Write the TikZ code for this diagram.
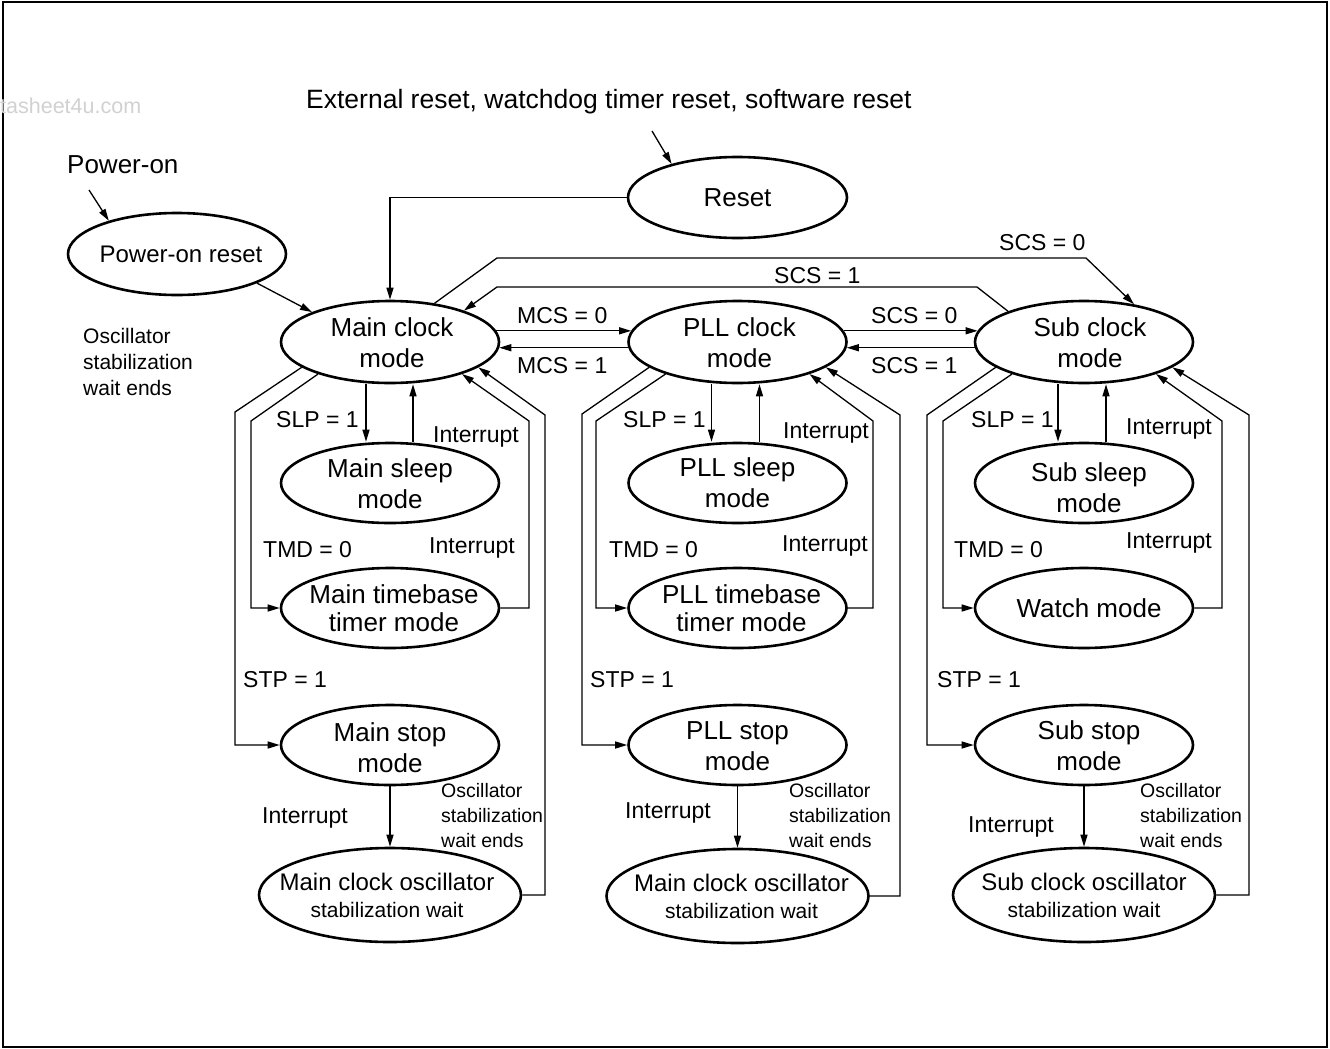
\documentclass[tikz,border=0pt]{standalone}
\usepackage{fontspec}
\setmainfont{Liberation Sans}
\usetikzlibrary{shapes.geometric,arrows.meta}
\begin{document}
\begin{tikzpicture}[x=1pt,y=-1pt,
  st/.style={ellipse,draw,line width=2.6pt,inner sep=0pt,minimum width=218pt,minimum height=80pt},
  stt/.style={inner sep=0pt,align=center,font=\fontsize{26}{31}\selectfont},
  lbl/.style={inner sep=0pt,anchor=base west,font=\fontsize{23}{27}\selectfont},
  big/.style={inner sep=0pt,anchor=base west,font=\fontsize{26}{31}\selectfont},
  sml/.style={inner sep=0pt,anchor=north west,align=left,font=\fontsize{19.5}{25}\selectfont},
  arr/.style={line width=1.3pt,-{Triangle[length=12pt,width=7pt]}},
  ln/.style={line width=1.3pt}]
\useasboundingbox (0,0) rectangle (1330,1049);
\draw[line width=2pt] (3,2.5) rectangle (1327,1046.5);
\node[inner sep=0pt,anchor=base west,text=black!18,font=\fontsize{21.5}{25}\selectfont] (wm) at (0,113) {tasheet4u.com};

% free texts
\node[big,font=\fontsize{26.5}{31}\selectfont] (ext) at (306,108) {External reset, watchdog timer reset, software reset};
\node[big] (pwr) at (67,173) {Power-on};
\node[sml,font=\fontsize{21}{26}\selectfont] (oscl) at (83,328) {Oscillator\\stabilization\\wait ends};

% top states
\node[st,minimum height=82pt] (por) at (177,254) {};
\node[stt,font=\fontsize{24}{29}\selectfont] (por-t) at ([xshift=4pt]por) {Power-on reset};
\node[st,minimum width=219pt,minimum height=81pt] (reset) at (737.5,197.5) {};
\node[stt] (reset-t) at (reset) {Reset};

% clock modes
\node[st,minimum height=82pt] (main) at (390,342) {};
\node[stt] (main-t) at ([xshift=2pt,yshift=-1pt]main) {Main clock\\mode};
\node[st,minimum height=82pt] (pll) at (737.5,342) {};
\node[stt] (pll-t) at ([xshift=2pt,yshift=-1pt]pll) {PLL clock\\mode};
\node[st,minimum height=82pt] (sub) at (1084,342) {};
\node[stt] (sub-t) at ([xshift=6pt,yshift=-1pt]sub) {Sub clock\\mode};

% sleep modes
\node[st] (msl) at (390,483) {};
\node[stt] (msl-t) at ([yshift=-1pt]msl) {Main sleep\\mode};
\node[st] (psl) at (737.5,483) {};
\node[stt] (psl-t) at (psl) {PLL sleep\\mode};
\node[st] (ssl) at (1084,483) {};
\node[stt] (ssl-t) at ([xshift=5pt,yshift=-5pt]ssl) {Sub sleep\\mode};

% timebase / watch
\node[st] (mtb) at (390,608) {};
\node[stt,font=\fontsize{26}{28}\selectfont] (mtb-t) at ([xshift=4pt]mtb) {Main timebase\\timer mode};
\node[st] (ptb) at (737.5,608) {};
\node[stt,font=\fontsize{26}{28}\selectfont] (ptb-t) at ([xshift=4pt]ptb) {PLL timebase\\timer mode};
\node[st] (watch) at (1084,608) {};
\node[stt] (watch-t) at ([xshift=5pt]watch) {Watch mode};

% stop modes
\node[st] (mstop) at (390,745) {};
\node[stt] (mstop-t) at ([yshift=-3pt]mstop) {Main stop\\mode};
\node[st] (pstop) at (737.5,745) {};
\node[stt] (pstop-t) at ([yshift=-1pt]pstop) {PLL stop\\mode};
\node[st] (sstop) at (1084,745) {};
\node[stt] (sstop-t) at ([xshift=5pt,yshift=-1pt]sstop) {Sub stop\\mode};

% oscillator waits
\node[st,minimum width=262pt,minimum height=94pt] (mosc) at (390,895) {};
\node[stt,font=\fontsize{24}{27}\selectfont] (mosc-t) at ([xshift=-3pt]mosc) {Main clock oscillator\\{\fontsize{21}{27}\selectfont stabilization wait}};
\node[st,minimum width=262pt,minimum height=94pt] (posc) at (737.5,896) {};
\node[stt,font=\fontsize{24}{27}\selectfont] (posc-t) at ([xshift=4pt]posc) {Main clock oscillator\\{\fontsize{21}{27}\selectfont stabilization wait}};
\node[st,minimum width=262pt,minimum height=94pt] (sosc) at (1084,895) {};
\node[stt,font=\fontsize{24}{27}\selectfont] (sosc-t) at (sosc) {Sub clock oscillator\\{\fontsize{21}{27}\selectfont stabilization wait}};

% top connectors
\coordinate (pon) at (89,190);
\coordinate (rst) at (652,131);
\draw[arr] (pon) -- (por.154);
\draw[arr] (rst) -- (reset.153);
\draw[arr] (por.340) -- (main.159);
\draw[arr] (reset.west) -| (main.north);
\draw[arr] (main.41) -- (497,258) -- (1086,258) -- (sub.37);
\draw[arr] (sub.158) -- (977,287) -- (497,287) -- (main.23);
\draw[arr] (main.6) -- (pll.174);
\draw[arr] (pll.183) -- (main.357);
\draw[arr] (pll.6) -- (sub.174);
\draw[arr] (sub.183) -- (pll.357);

\node[lbl] (l-mcs0) at (517,323) {MCS = 0};
\node[lbl] (l-mcs1) at (517,373) {MCS = 1};
\node[lbl] (l-scs0m) at (871,323) {SCS = 0};
\node[lbl] (l-scs1m) at (871,373) {SCS = 1};
\node[lbl] (l-scs1t) at (774,283) {SCS = 1};
\node[lbl] (l-scs0t) at (999,250) {SCS = 0};

% main column
\draw[arr] (main.196) -- (235,412) |- (mstop.west);
\draw[arr] (main.204) -- (251,421) |- (mtb.west);
\draw[arr] ([xshift=-24pt]main.south) -- ([xshift=-24pt]msl.north);
\draw[arr] ([xshift=23pt]msl.north) -- ([xshift=23pt]main.south);
\draw[arr] (mtb.east) -| (529,421) -- (main.336);
\draw[arr] (mosc.east) -| (545,415) -- (main.344);
\draw[arr] (mstop.south) -- (mosc.north);
\node[lbl] (m-slp) at (276,427) {SLP = 1};
\node[lbl] (m-int1) at (433,442) {Interrupt};
\node[lbl] (m-tmd) at (263,557) {TMD = 0};
\node[lbl] (m-int2) at (429,553) {Interrupt};
\node[lbl] (m-stp) at (243,687) {STP = 1};
\node[lbl] (m-int3) at (262,823) {Interrupt};
\node[sml] (m-osc) at (441,783) {Oscillator\\stabilization\\wait ends};

% PLL column
\draw[arr] (pll.196) -- (582,414) |- (pstop.west);
\draw[arr] (pll.204) -- (596,421) |- (ptb.west);
\draw[arr] ([xshift=-26pt]pll.south) -- ([xshift=-26pt]psl.north);
\draw[arr] ([xshift=22pt]psl.north) -- ([xshift=22pt]pll.south);
\draw[arr] (ptb.east) -| (873,421) -- (pll.336);
\draw[arr] (posc.east) -| (900,415) -- (pll.344);
\draw[arr] (pstop.south) -- (posc.north);
\node[lbl] (p-slp) at (623,427) {SLP = 1};
\node[lbl] (p-int1) at (783,438) {Interrupt};
\node[lbl] (p-tmd) at (609,557) {TMD = 0};
\node[lbl] (p-int2) at (782,551) {Interrupt};
\node[lbl] (p-stp) at (590,687) {STP = 1};
\node[lbl] (p-int3) at (625,818) {Interrupt};
\node[sml] (p-osc) at (789,783) {Oscillator\\stabilization\\wait ends};

% Sub column
\draw[arr] (sub.196) -- (927,415) |- (sstop.west);
\draw[arr] (sub.204) -- (943,421) |- (watch.west);
\draw[arr] ([xshift=-26pt]sub.south) -- ([xshift=-26pt]ssl.north);
\draw[arr] ([xshift=22pt]ssl.north) -- ([xshift=22pt]sub.south);
\draw[arr] (watch.east) -| (1222,421) -- (sub.336);
\draw[arr] (sosc.east) -| (1249,415) -- (sub.344);
\draw[arr] (sstop.south) -- (sosc.north);
\node[lbl] (s-slp) at (971,427) {SLP = 1};
\node[lbl] (s-int1) at (1126,434) {Interrupt};
\node[lbl] (s-tmd) at (954,557) {TMD = 0};
\node[lbl] (s-int2) at (1126,548) {Interrupt};
\node[lbl] (s-stp) at (937,687) {STP = 1};
\node[lbl] (s-int3) at (968,832) {Interrupt};
\node[sml] (s-osc) at (1140,783) {Oscillator\\stabilization\\wait ends};
\end{tikzpicture}
\end{document}
